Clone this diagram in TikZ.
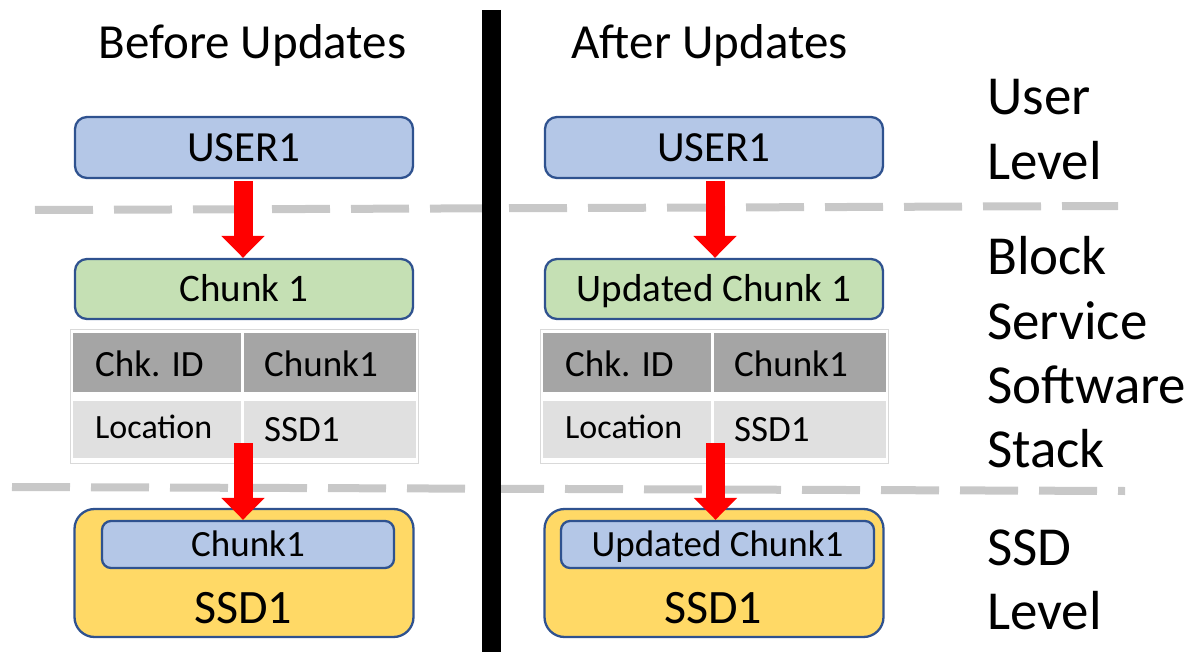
\documentclass[tikz,border=0pt]{standalone}
\usepackage{fontspec}
\setmainfont{Carlito}
\usetikzlibrary{arrows.meta}
\definecolor{boxblue}{HTML}{B4C7E7}
\definecolor{boxgreen}{HTML}{C5E0B4}
\definecolor{boxgold}{HTML}{FFD966}
\definecolor{edgeblue}{HTML}{2F528F}
\definecolor{celldark}{HTML}{A5A5A5}
\definecolor{celllight}{HTML}{E0E0E0}
\definecolor{framegray}{HTML}{D9D9D9}
\definecolor{sepgray}{HTML}{C8C8C8}
\newcommand\fsz[1]{\fontsize{#1}{#1}\selectfont}
\begin{document}
\begin{tikzpicture}[x=1pt,y=-1pt,
  layerbox/.style={draw=edgeblue, line width=2.3pt, rounded corners=12pt,
    inner sep=0pt, text depth=0pt},
  userbox/.style={layerbox, fill=boxblue, minimum width=338pt, minimum height=61pt,
    font=\fsz{43}, text height=27.7pt},
  chunkbox/.style={layerbox, fill=boxgreen, minimum width=338pt, minimum height=60pt,
    font=\fsz{39}, text height=25.1pt},
  ssdbox/.style={layerbox, fill=boxgold, rounded corners=20pt, minimum width=339pt, minimum height=128pt},
  storedbox/.style={layerbox, fill=boxblue, rounded corners=9pt, minimum height=47pt,
    font=\fsz{37}, text height=23.8pt},
  tableframe/.style={draw=framegray, line width=1pt, fill=white, minimum width=348pt, minimum height=134pt, inner sep=0pt},
  cell/.style={inner sep=0pt, minimum height=59pt},
  celltext/.style={anchor=base west, inner sep=0pt, font=\fsz{37}},
  celltextsmall/.style={anchor=base west, inner sep=0pt, font=\fsz{34}},
  bigarrow/.style={draw=red, line width=19pt, -{Triangle[width=42pt,length=22pt]}},
  separator/.style={draw=sepgray, line width=8pt, dash pattern=on 58pt off 21pt},
  divider/.style={draw=black, line width=19pt},
  title/.style={anchor=base, inner sep=0pt, font=\fsz{49}},
  levellabel/.style={anchor=base west, inner sep=0pt, font=\fsz{55}}
]
\useasboundingbox (0,0) rectangle (1191,652);

% layer separators
\draw[separator] (35,210) -- (1118,206);
\draw[separator] (12,487) -- (1125,491);

% column titles
\node[title] (tleft) at (252.5,59) {Before Updates};
\node[title] (tright) at (709.5,59) {After Updates};

% ---------- before updates ----------
\node[userbox] (u1) at (244,147.5) {USER1};
\node[chunkbox] (c1) at (244,289) {Chunk 1};

\node[tableframe] (tb1) at (244,396) {};
\node[cell, fill=celldark, minimum width=168pt] (tb1a) at (157,362.5) {};
\node[cell, fill=celldark, minimum width=172pt] (tb1b) at (330,362.5) {};
\node[cell, fill=celllight, minimum width=168pt, minimum height=57pt] (tb1c) at (157,429.5) {};
\node[cell, fill=celllight, minimum width=172pt, minimum height=57pt] (tb1d) at (330,429.5) {};
\node[celltext] (k1) at (95,376) {Chk. ID};
\node[celltext] (v1) at (264,376) {Chunk1};
\node[celltextsmall] (k2) at (95,438) {Location};
\node[celltext] (v2) at (264,441) {SSD1};

\node[ssdbox] (s1) at (244,573) {};
\node[storedbox, minimum width=292pt] (ic1) at (248,544.5) {Chunk1};
\node[anchor=base, inner sep=0pt, font=\fsz{48}] (sl1) at (243,623) {SSD1};

\draw[bigarrow] ([xshift=-1pt,yshift=-2pt]u1.south) -- ([xshift=-1pt]c1.north);
\coordinate (a1) at (243,443);
\draw[bigarrow] (a1) -- (a1 |- ic1.north);

% ---------- after updates ----------
\node[userbox] (u2) at (714,147.5) {USER1};
\node[chunkbox] (c2) at (714,289) {Updated Chunk 1};

\node[tableframe] (tb2) at (714,396) {};
\node[cell, fill=celldark, minimum width=168pt] (tb2a) at (627,362.5) {};
\node[cell, fill=celldark, minimum width=172pt] (tb2b) at (800,362.5) {};
\node[cell, fill=celllight, minimum width=168pt, minimum height=57pt] (tb2c) at (627,429.5) {};
\node[cell, fill=celllight, minimum width=172pt, minimum height=57pt] (tb2d) at (800,429.5) {};
\node[celltext] (k3) at (565,376) {Chk. ID};
\node[celltext] (v3) at (734,376) {Chunk1};
\node[celltextsmall] (k4) at (565,438) {Location};
\node[celltext] (v4) at (734,441) {SSD1};

\node[ssdbox] (s2) at (714,573) {};
\node[storedbox, minimum width=313pt] (ic2) at (717.5,544.5) {Updated Chunk1};
\node[anchor=base, inner sep=0pt, font=\fsz{48}] (sl2) at (713,623) {SSD1};

\draw[bigarrow] ([xshift=1pt,yshift=-2pt]u2.south) -- ([xshift=1pt]c2.north);
\coordinate (a2) at (715.5,443);
\draw[bigarrow] (a2) -- (a2 |- ic2.north);

% column divider
\draw[divider] (491.5,10) -- (491.5,652);

% level labels
\node[levellabel] (l1) at (987,115) {User};
\node[levellabel] (l2) at (987,180) {Level};
\node[levellabel] (l3) at (987,275) {Block};
\node[levellabel] (l4) at (987,339) {Service};
\node[levellabel] (l5) at (987,403) {Software};
\node[levellabel] (l6) at (987,467) {Stack};
\node[levellabel] (l7) at (987,565) {SSD};
\node[levellabel] (l8) at (987,629) {Level};
\end{tikzpicture}
\end{document}
